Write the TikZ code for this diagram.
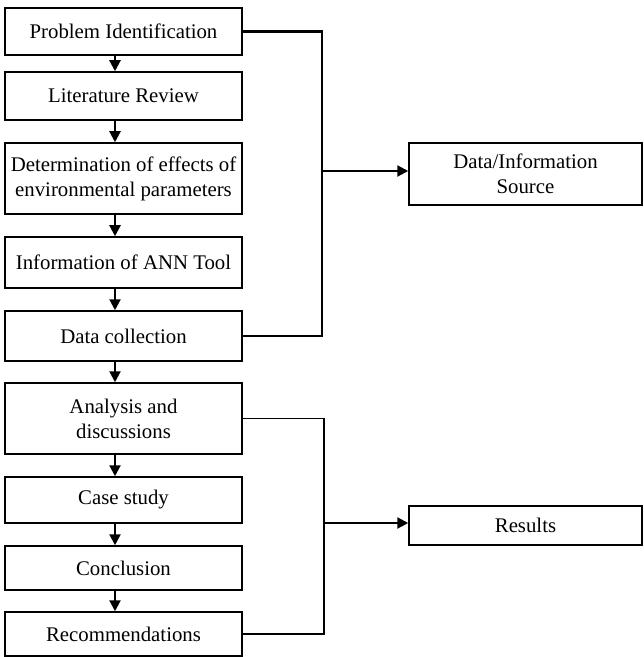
\documentclass[tikz,border=0pt]{standalone}
\usepackage{fontspec}
\setmainfont{Liberation Serif}
\usetikzlibrary{arrows.meta,positioning,calc}

\begin{document}
\begin{tikzpicture}[x=0.5pt,y=-0.5pt,
  stage/.style={draw, rectangle, line width=0.75pt, minimum width=118.5pt,
    align=center, font=\fontsize{10.4}{12.5}\selectfont, inner sep=1pt},
  outbox/.style={stage, minimum width=116.5pt},
  arr/.style={-{Triangle[length=5.5pt,width=5.5pt]}, line width=1.1pt},
  link/.style={line width=0.7pt}]
  \useasboundingbox (0,0) rectangle (643,657);
  % Process stages
  \node[stage, minimum height=23.5pt] (pi)  at (123.5,31.5) {Problem Identification};
  \node[stage, minimum height=24pt]   (lr)  at (123.5,96)   {Literature Review};
  \node[stage, minimum height=35.5pt] (det) at (123.5,178.5)
    {Determination of effects of\\environmental parameters};
  \node[stage, minimum height=25.5pt] (ann) at (123.5,262.5) {Information of ANN Tool};
  \node[stage, minimum height=25pt]   (dc)  at (123.5,336)   {Data collection};
  \node[stage, minimum height=35.5pt] (ad)  at (123.5,418.5) {Analysis and\\discussions};
  \node[stage, minimum height=23pt]   (cs)  at (123.5,500)   {Case study};
  \node[stage, minimum height=22pt]   (con) at (123.5,568)   {Conclusion};
  \node[stage, minimum height=22pt]   (rec) at (123.5,634)   {Recommendations};
  % Outputs
  \node[outbox, minimum height=31pt]   (dis) at (525.5,174)   {Data/Information\\Source};
  \node[outbox, minimum height=19.5pt] (res) at (525.5,525.5) {Results};
  % Junctions
  \coordinate (j1) at (322,171);
  \coordinate (j2) at (324,523);
  % Main sequence
  \foreach \a/\b in {pi/lr, lr/det, det/ann, ann/dc, dc/ad, ad/cs, cs/con, con/rec}
    \draw[arr] ([xshift=-4.25pt]\a.south) -- ([xshift=-4.25pt]\b.north);
  % Data/Information source
  \draw[line width=1.1pt] (pi.east) -| (j1);
  \draw[link] (j1) |- (dc.east);
  \draw[arr] (j1) -- (j1 -| dis.west);
  % Results
  \draw[link, line width=0.9pt] (ad.east) -| (j2);
  \draw[link] (j2) |- (rec.east);
  \draw[arr] (j2) -- (j2 -| res.west);
\end{tikzpicture}
\end{document}
